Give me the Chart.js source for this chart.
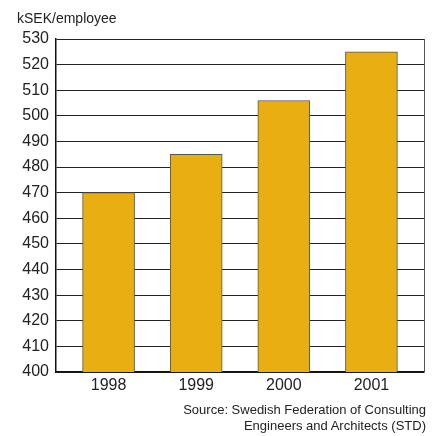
<!DOCTYPE html>
<html>
<head>
<meta charset="utf-8">
<script src="https://cdn.jsdelivr.net/npm/chart.js@4"></script>
<style>
  html, body { margin: 0; padding: 0; background: #fff; }
  #wrap { position: relative; width: 437px; height: 436px; font-family: "Liberation Sans", Arial, sans-serif; color: #222; }
  #chart { position: absolute; left: 0; top: 0; }
  .unit { position: absolute; left: 17px; top: 10px; font-size: 14px; line-height: 16px; }
  .source { position: absolute; right: 11px; top: 402px; font-size: 13px; line-height: 16px; text-align: right; }
</style>
</head>
<body>
<div id="wrap">
  <canvas id="chart" width="437" height="436"></canvas>
  <div class="unit">kSEK/employee</div>
  <div class="source">Source: Swedish Federation of Consulting<br>Engineers and Architects (STD)</div>
</div>
<script>
// Revenue per employee, kSEK
const years = [1998, 1999, 2000, 2001];
const revenue = [470, 485, 506, 525];
const yMin = 400;
const yMax = 530;
const yStep = 10;

// closes the plot frame on the right side
const rightEdge = {
  id: 'rightEdge',
  afterDraw(chart) {
    const { ctx, chartArea } = chart;
    ctx.save();
    ctx.strokeStyle = '#555';
    ctx.lineWidth = 1;
    ctx.beginPath();
    ctx.moveTo(chartArea.right + 0.5, chartArea.top);
    ctx.lineTo(chartArea.right + 0.5, chartArea.bottom);
    ctx.stroke();
    ctx.restore();
  }
};

new Chart(document.getElementById('chart'), {
  type: 'bar',
  data: {
    datasets: [{
      data: years.map((y, i) => ({ x: y, y: revenue[i] })),
      backgroundColor: '#E8AE12',
      borderColor: '#555',
      borderWidth: 1,
      borderSkipped: 'bottom',
      barThickness: 52
    }]
  },
  options: {
    responsive: false,
    animation: false,
    layout: { padding: { top: 39, right: 13, bottom: 0, left: 0 } },
    plugins: {
      legend: { display: false },
      tooltip: { enabled: false }
    },
    scales: {
      x: {
        type: 'linear',
        min: 1997.4,
        max: 2001.6,
        offset: false,
        grid: { display: false, drawTicks: false },
        border: { color: '#111', width: 1.5 },
        ticks: {
          color: '#222',
          padding: 4,
          font: { family: 'Liberation Sans', size: 16 },
          callback: (v) => String(v)
        },
        afterBuildTicks(scale) { scale.ticks = years.map((v) => ({ value: v })); },
        afterFit(scale) { scale.height = 64; }
      },
      y: {
        min: yMin,
        max: yMax,
        grid: { color: '#222', lineWidth: 1, drawTicks: false },
        border: { color: '#111', width: 1.5 },
        ticks: {
          stepSize: yStep,
          color: '#222',
          padding: 7,
          font: { family: 'Liberation Sans', size: 16 }
        },
        afterFit(scale) { scale.width = 56; }
      }
    }
  },
  plugins: [rightEdge]
});
</script>
</body>
</html>
